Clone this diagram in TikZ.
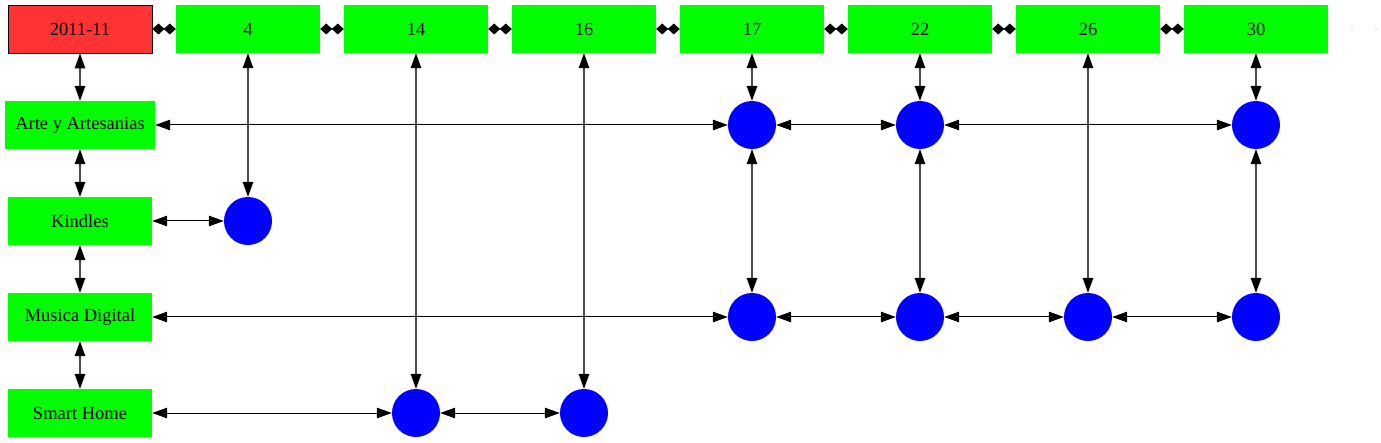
\documentclass[tikz,border=0pt]{standalone}
\usepackage{fontspec}
\setmainfont{Liberation Serif}
\usetikzlibrary{arrows.meta}
\definecolor{gvred}{HTML}{FF3333}
\definecolor{gvgreen}{HTML}{00FF00}
\definecolor{gvblue}{HTML}{0000FF}
\definecolor{vline}{HTML}{4A4A4A}
\tikzset{
  x=1pt,y=-1pt,
  gbox/.style={fill=gvgreen,minimum width=144pt,minimum height=48pt,inner sep=0pt,font=\fontsize{18.5}{20}\selectfont},
  rbox/.style={gbox,fill=gvred,draw=black,line width=0.9pt},
  dot/.style={circle,fill=gvblue,minimum size=48pt,inner sep=0pt},
  hedge/.style={draw=black,line width=1pt,{Triangle[length=15pt,width=10.5pt]}-{Triangle[length=15pt,width=10.5pt]}},
  vedge/.style={draw=vline,line width=1.3pt,{Triangle[length=15pt,width=10.5pt,color=black]}-{Triangle[length=15pt,width=10.5pt,color=black]}},
  tedge/.style={draw=black,line width=1pt,{Diamond[length=12pt,width=11pt]}-{Diamond[length=12pt,width=11pt]}},
}
\begin{document}
\begin{tikzpicture}
\useasboundingbox (0,0) rectangle (1381,443);
% top row
\node[rbox] (t0) at (80,29) {2011-11};
\node[gbox] (t4) at (248,29) {4};
\node[gbox] (t14) at (416,29) {14};
\node[gbox] (t16) at (584,29) {16};
\node[gbox] (t17) at (752,29) {17};
\node[gbox] (t22) at (920,29) {22};
\node[gbox] (t26) at (1088,29) {26};
\node[gbox] (t30) at (1256,29) {30};
\fill[gray] (1352,29) circle (0.6pt);
\fill[gray] (1376,29) circle (0.6pt);
% left column
\node[gbox,minimum width=150pt] (arte) at (80,125) {Arte y Artesanias};
\node[gbox] (kin) at (80,221) {Kindles};
\node[gbox] (mus) at (80,317) {Musica Digital};
\node[gbox] (sma) at (80,413) {Smart Home};
% dots
\node[dot] (a17) at (752,125) {};
\node[dot] (a22) at (920,125) {};
\node[dot] (a30) at (1256,125) {};
\node[dot] (k4) at (248,221) {};
\node[dot] (m17) at (752,317) {};
\node[dot] (m22) at (920,317) {};
\node[dot] (m26) at (1088,317) {};
\node[dot] (m30) at (1256,317) {};
\node[dot] (s14) at (416,413) {};
\node[dot] (s16) at (584,413) {};
% top row edges
\draw[tedge] (t0) -- (t4);
\draw[tedge] (t4) -- (t14);
\draw[tedge] (t14) -- (t16);
\draw[tedge] (t16) -- (t17);
\draw[tedge] (t17) -- (t22);
\draw[tedge] (t22) -- (t26);
\draw[tedge] (t26) -- (t30);
% left column edges
\draw[vedge] (t0) -- (arte);
\draw[vedge] (arte) -- (kin);
\draw[vedge] (kin) -- (mus);
\draw[vedge] (mus) -- (sma);
% column edges
\draw[vedge] (t4) -- (k4);
\draw[vedge] (t14) -- (s14);
\draw[vedge] (t16) -- (s16);
\draw[vedge] (t17) -- (a17);
\draw[vedge] (a17) -- (m17);
\draw[vedge] (t22) -- (a22);
\draw[vedge] (a22) -- (m22);
\draw[vedge] (t26) -- (m26);
\draw[vedge] (t30) -- (a30);
\draw[vedge] (a30) -- (m30);
% row edges
\draw[hedge] (arte) -- (a17);
\draw[hedge] (a17) -- (a22);
\draw[hedge] (a22) -- (a30);
\draw[hedge] (kin) -- (k4);
\draw[hedge] (mus) -- (m17);
\draw[hedge] (m17) -- (m22);
\draw[hedge] (m22) -- (m26);
\draw[hedge] (m26) -- (m30);
\draw[hedge] (sma) -- (s14);
\draw[hedge] (s14) -- (s16);
\end{tikzpicture}
\end{document}
